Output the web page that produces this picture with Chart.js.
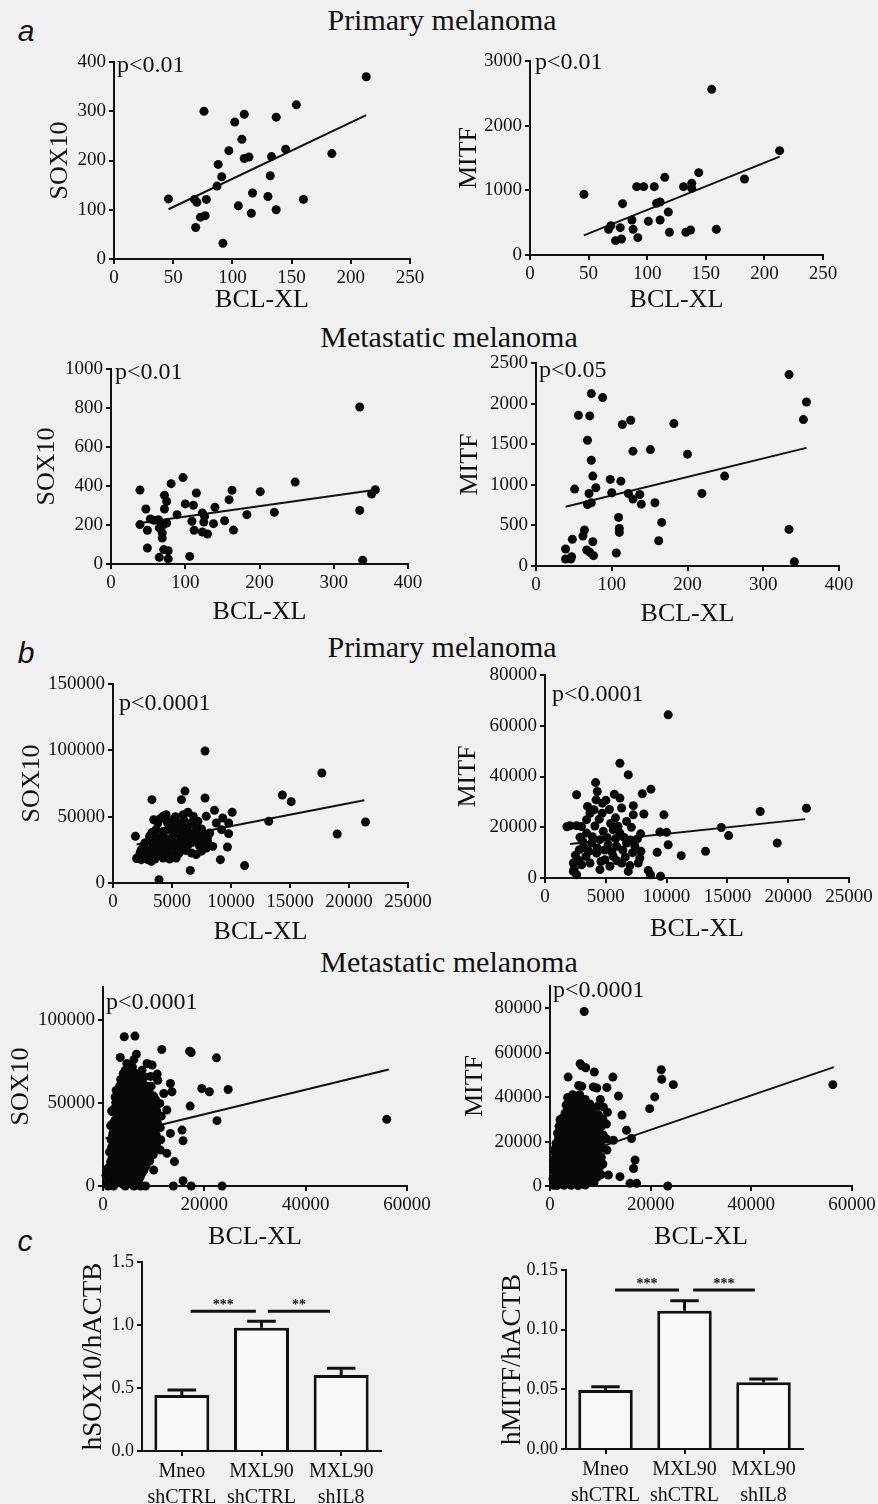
<!DOCTYPE html>
<html>
<head>
<meta charset="utf-8">
<script src="https://cdn.jsdelivr.net/npm/chart.js@4.4.1/dist/chart.umd.min.js"></script>
<style>
  body { margin: 0; width: 878px; height: 1504px; background: #f0f0f0; position: relative; overflow: hidden;
         font-family: "Liberation Serif", "Times New Roman", serif; color: #111; }
  canvas { position: absolute; }
  .head { position: absolute; font-size: 30px; line-height: 1; white-space: nowrap; transform: translate(-50%, -50%); }
  .tag { position: absolute; font-family: "Liberation Sans", Arial, sans-serif; font-style: italic; font-size: 30px;
         line-height: 1; transform: translate(-50%, -50%); }
</style>
</head>
<body>
<div class="tag" style="left:26px;top:31px">a</div>
<div class="tag" style="left:26px;top:653px">b</div>
<div class="tag" style="left:25px;top:1241px">c</div>
<div class="head" style="left:442px;top:20px">Primary melanoma</div>
<div class="head" style="left:449px;top:337px">Metastatic melanoma</div>
<div class="head" style="left:442px;top:647px">Primary melanoma</div>
<div class="head" style="left:449px;top:962px">Metastatic melanoma</div>

<canvas id="c1"></canvas><canvas id="c2"></canvas>
<canvas id="c3"></canvas><canvas id="c4"></canvas>
<canvas id="c5"></canvas><canvas id="c6"></canvas>
<canvas id="c7"></canvas><canvas id="c8"></canvas>
<canvas id="c9"></canvas><canvas id="c10"></canvas>

<script>
// ---- a: primary melanoma, BCL-XL vs SOX10 / MITF ----
const primSox10 = [[46,122],[76,300],[102,278],[110,294],[137,288],[154,313],[213,370],[108,243],[97,220],[88,192],
  [110,204],[114,207],[133,208],[145,223],[184,214],[91,167],[132,169],[87,148],[68,121],[70,115],[78,121],[117,134],
  [130,127],[160,121],[105,108],[116,93],[137,100],[73,85],[77,88],[69,64],[92,32]];
const primSox10Fit = [[46,101],[213,292]];

const primMitf = [[46,938],[155,2562],[213,1613],[183,1175],[144,1273],[115,1201],[91,1057],[97,1057],[106,1057],
  [131,1057],[138,1108],[138,1031],[79,794],[108,799],[111,820],[118,665],[87,541],[101,521],[111,541],[69,454],
  [67,397],[77,423],[88,397],[119,351],[133,351],[137,387],[159,397],[73,222],[78,247],[92,268]];
const primMitfFit = [[46,304],[213,1521]];

// ---- a: metastatic melanoma ----
const metSox10 = [[39,379],[97,443],[81,412],[248,420],[335,805],[356,381],[351,359],[335,275],[339,19],[201,371],
  [163,378],[115,364],[72,352],[75,321],[72,282],[47,282],[100,308],[111,301],[140,291],[159,330],[89,253],[123,262],
  [126,244],[183,253],[220,265],[53,231],[58,224],[39,202],[49,173],[65,185],[71,202],[75,210],[109,219],[125,215],
  [138,207],[153,222],[112,173],[123,164],[130,154],[165,174],[69,133],[49,82],[65,34],[71,74],[77,68],[77,26],
  [106,39],[69,159],[64,227]];
const metSox10Fit = [[39,210],[357,381]];

const metMitf = [[334,2357],[357,2020],[353,1803],[334,451],[341,53],[73,2123],[88,2074],[56,1857],[71,1848],
  [125,1795],[114,1742],[182,1754],[68,1549],[128,1414],[151,1434],[200,1377],[73,1303],[75,1107],[98,1066],
  [112,1045],[249,1107],[51,947],[79,963],[70,893],[100,902],[122,893],[137,881],[219,893],[128,824],[139,762],
  [157,779],[68,758],[73,779],[109,598],[166,537],[110,463],[110,414],[64,443],[62,369],[162,311],[75,299],
  [48,328],[39,209],[67,197],[71,168],[76,127],[106,160],[39,86],[47,115],[46,86]];
const metMitfFit = [[39,730],[357,1455]];

// ---- b: primary melanoma (large cohort) ----
const primBSox10 = [[7800,99500],[17700,82900],[14350,66300],[15100,61300],[21400,46000],[19000,36900],[13200,46500],
  [11150,13100],[6100,69300],[3300,62800],[5800,62800],[7800,64100],[8600,54800],[10100,53300],[9300,49000],
  [9800,45200],[9800,37200],[9700,27100],[9100,17600],[6550,9500],[3900,2500],[1900,35200],[2100,19300],[2550,21400],
  [2950,17600],[2800,25100],[3400,30200],[3450,47700],[3800,45200],[4250,50300],[4500,51500],[5100,47700],[5500,45200],
  [5950,51500],[6350,53300],[6800,50300],[7200,46500],[7900,50300],[3650,40200],[4250,38900],[4650,40200],[5100,37700],
  [5650,40200],[6050,41500],[6500,37700],[7050,38900],[7600,36400],[8200,37700],[3100,35200],[3800,33900],[4400,32700],
  [4950,33900],[5350,30200],[5800,31400],[6200,32700],[6800,33900],[7350,32700],[8050,30200],[8450,27600],[3400,27600],
  [3950,26400],[4500,25100],[5100,27600],[5650,26400],[7350,27600],[7900,26400],[6650,22600],[7050,21400],[2800,20100],
  [3550,18100],[4250,18800],[4800,18100],[5350,18800],[2400,17600],[3250,16300],[7500,40700],[8750,45200],[9200,40200],
  [4800,42700],[2700,30200],[2400,25100],[2300,22800],[2600,27500],[3000,23000],[3200,20500],[3000,31800],[3300,38000],
  [3600,35800],[3900,29500],[4100,23000],[4300,28500],[4700,29500],[4700,22000],[5000,20500],[5300,24000],[5600,22500],
  [5900,28500],[6000,36000],[6200,24500],[6400,29000],[6700,30500],[6900,36000],[7200,30200],[7600,29800],[7500,24000],
  [8000,33500],[4000,48500],[4600,45800],[5300,50000],[6000,47500],[6600,45000],[3600,21500],[5700,35000],[6400,43500],
  [5200,43500],[7000,43000],[4300,35000],[3300,24500],[2000,18500]];
const primBSox10Fit = [[2000,29000],[21300,62300]];

const primBMitf = [[10130,64300],[6160,45200],[6850,40700],[4160,37600],[4300,34100],[8710,35000],[8000,33200],
  [2600,32800],[6160,31500],[5010,30600],[4710,29500],[7260,28500],[8130,25200],[9780,24900],[17700,26200],
  [21500,27500],[3500,28200],[4030,26900],[2050,20600],[2600,20600],[3420,23000],[4460,23200],[7260,24900],
  [6710,22300],[14500,19900],[15100,16700],[9450,18100],[10000,18000],[4790,18400],[5610,19000],[6160,17700],
  [7860,17400],[10130,13100],[19100,13800],[13200,10500],[11200,8800],[9230,10100],[3420,17700],[2880,16100],
  [3830,13800],[4520,15100],[5200,13100],[5890,12500],[6710,13800],[7390,12500],[7890,10500],[2820,11100],
  [3370,8500],[4240,9800],[4930,7200],[5610,8500],[6300,5900],[6980,4900],[7670,5900],[7800,7900],[2330,5900],
  [3010,5200],[3700,5900],[4520,3300],[5340,4600],[2330,2600],[2600,1300],[6850,2600],[8490,3000],[8680,1300],
  [9500,700],[1800,20200],[2400,3500],[2800,6900],[3200,12000],[3600,10500],[3900,16300],[4100,20500],[4300,11800],
  [4600,6500],[4900,11000],[5100,16000],[5400,21500],[5500,10200],[5800,15500],[5900,6800],[6000,20400],[6400,11000],
  [6500,16000],[6600,8200],[7000,15000],[7100,20000],[7600,15400],[7200,10000],[3000,20300],[3700,25500],[4700,25500],
  [5300,27000],[5800,23700],[6300,27600],[4200,30800],[5700,33000],[3100,14500],[2500,9000]];
const primBMitfFit = [[2050,13400],[21400,23200]];

// ---- b: metastatic melanoma (large cohort) ----
const metBSox10 = [[56000,40200],[4200,90000],[6300,90400],[11600,82300],[17100,81300],[17400,80500],[22400,77300],
  [24700,58200],[19500,58800],[21000,56800],[22500,39400],[17200,48200],[14100,14700],[15800,3200],[17400,0],
  [23500,0],[13900,0],[3400,77500],[6600,79500],[8700,73900],[9700,72900],[10700,67500],[13300,61800],[13600,56800],
  [12000,55800],[15600,33700],[15800,27300],[13300,31700],[12600,45800],[10700,37800],[11300,21700],[12600,19700],
  [10000,9600],[8000,9600],[2100,0],[4400,0],[6100,0],[7400,0],[8400,0],
  [800,2000],[600,6500],[900,10500],[1000,0],
  [1500,500],[1400,4200],[1600,8800],[1500,14500],[1300,20500],[1600,27800],[1500,36400],[1700,45200],
  [2200,5200],[2100,11800],[2300,18300],[2200,24600],[2000,32100],[2300,39400],[2100,46300],[2400,53700],
  [2900,2800],[2800,8300],[3000,14200],[2900,20800],[2700,27900],[3000,35300],[2800,42100],[3100,49200],[2900,56400],
  [3600,6100],[3500,11300],[3700,17200],[3600,23400],[3400,30300],[3700,36800],[3500,43900],[3800,51200],[3600,58300],
  [3500,64200],[4300,2300],[4200,8100],[4400,13800],[4300,20200],[4100,27100],[4400,34300],[4200,40800],[4500,48100],
  [4300,55300],[4100,62200],[4400,69800],[5000,4800],[4900,11300],[5100,17100],[5000,24200],[4800,30800],[5100,38200],
  [4900,45100],[5200,52300],[5000,58900],[4900,66200],[5700,2900],[5600,9200],[5800,15300],[5700,21100],[5500,28200],
  [5800,34900],[5600,42200],[5900,48800],[5700,56100],[5600,63100],[5800,71800],[6400,6200],[6300,12100],[6500,18900],
  [6400,25800],[6200,33200],[6500,39900],[6300,47200],[6600,54100],[6400,61200],[6300,68100],[7100,3800],[7000,10200],
  [7200,16100],[7100,23200],[6900,29800],[7200,37100],[7000,44200],[7300,50900],[7100,58100],[7000,65200],[7800,8100],
  [7700,13900],[7900,20200],[7800,27100],[7600,34200],[7900,40800],[7700,48200],[8000,54900],[7800,62100],[7700,69800],
  [8500,12200],[8400,18100],[8600,24800],[8500,32100],[8300,38900],[8600,46200],[8400,53100],[8700,60200],[9200,15100],
  [9100,22200],[9300,28900],[9200,36200],[9000,42800],[9300,50100],[9100,57200],[9400,66100],[9900,18800],[9800,26100],
  [10000,32900],[9900,40200],[9700,47100],[10000,54200],[10600,24200],[10500,30800],[10700,38100],[10600,45200],
  [10400,51900],[10800,63800],[11400,27900],[11300,35200],[11500,42100],[11200,49800],
  [1800,2500],[1900,9400],[1800,16600],[1700,23400],[1900,30600],[1800,37300],[1900,44700],
  [2500,1600],[2600,8400],[2500,15700],[2400,22300],[2600,29600],[2500,36400],[2700,43700],[2500,50400],[2600,57700],
  [3200,4400],[3300,11600],[3200,18300],[3100,25700],[3300,32400],[3200,39600],[3400,46300],[3200,53600],[3300,60400],
  [3900,1100],[4000,8100],[3900,14800],[3800,22100],[4000,28900],[3900,36200],[4100,42900],[3900,50100],[4000,56800],
  [3900,62300],[4000,67800],[4600,5400],[4700,12600],[4600,19400],[4500,26700],[4700,33400],[4600,40600],[4800,47400],
  [4600,54600],[4700,61300],[4600,66700],[4700,73800],[5300,1600],[5400,8300],[5300,15600],[5200,22400],[5400,29700],
  [5300,36400],[5500,43600],[5300,50300],[5400,57600],[5300,64400],[5400,69800],[6000,5100],[6100,11800],[6000,19200],
  [5900,25900],[6100,33100],[6000,39800],[6200,47200],[6000,53900],[6100,61100],[6000,66800],[6100,76200],[6700,2100],
  [6800,8800],[6700,16200],[6600,22900],[6800,30100],[6700,36800],[6900,44200],[6700,50900],[6800,58100],[6700,63800],
  [7400,5900],[7500,13200],[7400,19800],[7300,27200],[7500,33900],[7400,41100],[7600,47800],[7400,55200],[7500,61800],
  [8100,9800],[8200,17200],[8100,23800],[8000,31200],[8200,37800],[8100,45100],[8300,51800],[8100,59200],[8200,65800],
  [8800,14800],[8900,21200],[8800,27800],[8700,35200],[8900,41800],[8800,49200],[9000,55800],
  [9500,19800],[9600,30200],[9500,36800],[9400,44200],[9600,50800],[9500,60200],
  [10200,21800],[10300,28200],[10200,34800],[10100,43200],[10300,48800]];
const metBSox10Fit = [[500,28800],[56400,70300]];

const metBMitf = [[6800,78500],[56200,45600],[24500,45600],[22200,48000],[22100,52300],[20800,40100],[19800,34800],
  [23400,0],[12500,49000],[11300,44300],[8800,51300],[6000,55000],[3600,49000],[6300,44900],[8600,44600],[13600,40500],
  [10600,35600],[14300,31900],[15200,25100],[16200,21400],[16900,11700],[16600,7900],[13900,4200],[11600,4900],
  [15900,1200],[17200,1200],[12600,20600],[11300,16200],[1300,14700],[700,8700],
  [700,300],[600,3200],[800,7200],[700,11800],[900,15300],[1400,200],[1300,4100],[1500,8900],[1400,14100],[1200,19200],
  [1500,23800],[2100,1100],[2000,6200],[2200,10800],[2100,16100],[1900,20900],[2200,26200],[2000,29800],[2800,300],
  [2700,4100],[2900,8200],[2800,12900],[2600,18100],[2900,22800],[2700,28100],[3000,32900],[3500,1800],[3400,6100],
  [3600,10200],[3500,14900],[3300,20100],[3600,24800],[3400,30200],[3700,34900],[3500,39800],[4200,300],[4100,4200],
  [4300,8100],[4200,12200],[4000,16900],[4300,22100],[4100,27200],[4400,31900],[4200,37100],[4900,2100],[4800,5900],
  [5000,10900],[4900,15100],[4700,19200],[5000,23900],[4800,29100],[5100,33800],[4900,38900],[5600,200],[5500,4100],
  [5700,8900],[5600,13100],[5400,18200],[5700,22900],[5500,28200],[5800,32900],[5600,38100],[5700,45200],[6300,2100],
  [6200,6900],[6400,11100],[6300,16200],[6100,20900],[6400,26100],[6200,30900],[6500,36200],[6300,54100],[7000,400],
  [6900,5100],[7100,9200],[7000,13900],[6800,18900],[7100,24200],[6900,28900],[7200,34100],[7000,38900],[7100,53200],
  [7700,2100],[7600,6900],[7800,11900],[7700,17100],[7500,22200],[7800,26900],[7600,32100],[7900,36900],[8400,3900],
  [8300,9100],[8500,13900],[8400,19200],[8200,23900],[8500,29100],[8300,33800],[9100,6100],[9000,10900],[9200,16200],
  [9100,20900],[8900,26100],[9200,30900],[9300,44100],[9800,8100],[9700,13900],[9900,20100],[9800,25900],[9600,32100],
  [10000,38900],[10500,9900],[10400,17100],[10600,22900],[10500,30100],[11300,21100],[11200,27900],[11400,33200],
  [1000,1500],[1100,5600],[1000,9900],[1100,17100],[1750,2100],[1800,6400],[1700,11600],[1800,16400],[1700,21600],
  [1800,26900],[2450,2900],[2500,8600],[2400,13400],[2500,18600],[2400,23400],[2500,30600],[3150,1100],[3200,4900],
  [3100,10600],[3200,15400],[3100,20600],[3200,25400],[3100,30600],[3200,36400],[3850,2900],[3900,8100],[3800,12400],
  [3900,17600],[3800,22400],[3900,27600],[3800,32400],[3900,38600],[4550,1100],[4600,5900],[4500,10100],[4600,14400],
  [4500,19600],[4600,24400],[4500,29600],[4600,34400],[4500,41100],[5250,2900],[5300,7600],[5200,11900],[5300,16600],
  [5200,20900],[5300,26100],[5200,30900],[5300,36100],[5950,1600],[6000,5900],[5900,10600],[6000,14900],[5900,19600],
  [6000,24400],[5900,29600],[6000,34900],[5900,41100],[6650,3400],[6700,8100],[6600,12900],[6700,18100],[6600,22900],
  [6700,28100],[6600,32900],[6700,38100],[7350,1600],[7400,6400],[7300,11600],[7400,16400],[7300,21600],[7400,26400],
  [7300,31600],[7400,36400],[8050,4600],[8100,9400],[8000,14600],[8100,19400],[8000,24600],[8100,29400],[8000,35100],
  [8750,1600],[8800,6400],[8700,11600],[8800,16400],[8700,21600],[8800,27400],[8700,32100],[9450,4100],[9500,10900],
  [9400,17600],[9500,23400],[9400,29100],[9500,35900],[10150,5100],[10200,12900],[10100,19600],[10200,26900]];
const metBMitfFit = [[500,10200],[56400,53500]];

// ---- c: qPCR bars ----
const groups = [['Mneo', 'shCTRL'], ['MXL90', 'shCTRL'], ['MXL90', 'shIL8']];
const sox10Mean = [0.444, 0.978, 0.603];
const sox10Err = [0.04, 0.052, 0.053];
const sox10Sig = [[0.11, 0.93, 1.11, '***'], [1.08, 1.86, 1.11, '**']];
const mitfMean = [0.0494, 0.1159, 0.0559];
const mitfErr = [0.0028, 0.0084, 0.0028];
const mitfSig = [[0.12, 0.93, 0.1333, '***'], [1.11, 1.89, 0.1333, '***']];

Chart.defaults.font.family = '"Liberation Serif", "Times New Roman", serif';
Chart.defaults.color = '#111';
const INK = '#111';

function noteAt(text, dx, dy) {
  return {
    id: 'pnote',
    afterDraw(chart) {
      const { ctx, chartArea } = chart;
      ctx.save();
      ctx.font = '24px "Liberation Serif"';
      ctx.fillStyle = INK;
      ctx.textBaseline = 'middle';
      ctx.fillText(text, chartArea.left + dx, chartArea.top + dy);
      ctx.restore();
    }
  };
}

function barMarks(vals, err, sig) {
  return {
    id: 'barmarks',
    afterDatasetsDraw(chart) {
      const { ctx, scales: { x, y } } = chart;
      const meta = chart.getDatasetMeta(0);
      ctx.save();
      ctx.strokeStyle = INK;
      ctx.fillStyle = INK;
      ctx.lineWidth = 3;
      meta.data.forEach((bar, i) => {
        const y0 = y.getPixelForValue(vals[i]), y1 = y.getPixelForValue(vals[i] + err[i]);
        const h = bar.width * 0.26;
        ctx.beginPath();
        ctx.moveTo(bar.x, y0); ctx.lineTo(bar.x, y1);
        ctx.moveTo(bar.x - h, y1); ctx.lineTo(bar.x + h, y1);
        ctx.stroke();
      });
      ctx.font = 'bold 14px "Liberation Serif"';
      ctx.textAlign = 'center';
      ctx.textBaseline = 'alphabetic';
      sig.forEach(([a, b, v, s]) => {
        const xa = x.getPixelForValue(a), xb = x.getPixelForValue(b), yy = y.getPixelForValue(v);
        ctx.beginPath(); ctx.moveTo(xa, yy); ctx.lineTo(xb, yy); ctx.stroke();
        ctx.fillText(s, (xa + xb) / 2, yy - 2);
      });
      ctx.restore();
    }
  };
}

// ticks every `step` from 0, even when max is not a multiple of step
function axis(max, step, title, size, fit, fmt) {
  return {
    type: 'linear', min: 0, max: max,
    afterBuildTicks: s => {
      const t = [];
      for (let v = 0; v <= max + step * 1e-6; v += step) t.push({ value: +v.toFixed(6) });
      s.ticks = t;
    },
    ticks: { autoSkip: false, maxRotation: 0, padding: 3, color: INK, font: { size: 19 },
             callback: fmt || (v => String(v)) },
    grid: { drawOnChartArea: false, drawTicks: true, tickLength: 5, color: INK, lineWidth: 2 },
    border: { display: true, color: INK, width: 2 },
    title: { display: true, text: title, color: INK, padding: 0, font: { size: size, lineHeight: 1 } },
    afterFit: fit
  };
}

function place(cv, box, wy, hx, padT, padR) {
  cv.width = wy + box.r - box.l + padR;
  cv.height = padT + box.b - box.t + hx;
  cv.style.left = (box.l - wy) + 'px';
  cv.style.top = (box.t - padT) + 'px';
}

// box: plot area on the page (l, r, t, b), yt = centre of y title, xt = centre of x title
function scatter(id, box, xr, yr, yTitle, pts, fit, note) {
  const T = 26, padT = 16, padR = 32;
  const wy = Math.round(box.l - box.yt + T / 2);
  const hx = Math.round(box.xt - box.b + T / 2);
  const cv = document.getElementById(id);
  place(cv, box, wy, hx, padT, padR);
  new Chart(cv, {
    type: 'scatter',
    data: {
      datasets: [
        { data: pts.map(p => ({ x: p[0], y: p[1] })), pointRadius: 4.5, pointHoverRadius: 4.5,
          backgroundColor: '#080808', borderWidth: 0, clip: false },
        { data: fit.map(p => ({ x: p[0], y: p[1] })), showLine: true, pointRadius: 0,
          borderColor: INK, borderWidth: 2, clip: false }
      ]
    },
    options: {
      responsive: false, animation: false, devicePixelRatio: 1,
      layout: { padding: { top: padT, right: padR, left: 0, bottom: 0 } },
      plugins: { legend: { display: false }, tooltip: { enabled: false } },
      scales: {
        x: axis(xr[0], xr[1], 'BCL-XL', T, s => { s.height = hx; }),
        y: axis(yr[0], yr[1], yTitle, T, s => { s.width = wy; })
      }
    },
    plugins: [noteAt(note[0], note[1], note[2])]
  });
}

function bars(id, box, vals, err, sig, yr, dec, yTitle) {
  const T = 27, padT = 16, padR = 22;
  const wy = Math.round(box.l - box.yt + T / 2);
  const hx = 1504 - box.b;
  const cv = document.getElementById(id);
  place(cv, box, wy, hx, padT, padR);
  const y = axis(yr[0], yr[1], yTitle, T, s => { s.width = wy; }, v => v.toFixed(dec));
  y.ticks.font = { size: 18 };
  new Chart(cv, {
    type: 'bar',
    data: {
      labels: groups,
      datasets: [{ data: vals, backgroundColor: '#f8f8f8', borderColor: INK, borderWidth: 3,
                   barPercentage: 0.69, categoryPercentage: 1 }]
    },
    options: {
      responsive: false, animation: false, devicePixelRatio: 1,
      layout: { padding: { top: padT, right: padR, left: 0, bottom: 0 } },
      plugins: { legend: { display: false }, tooltip: { enabled: false } },
      scales: {
        x: {
          type: 'category', offset: true,
          grid: { offset: false, drawOnChartArea: false, drawTicks: true, tickLength: 5, color: INK, lineWidth: 2 },
          border: { display: true, color: INK, width: 2 },
          ticks: { autoSkip: false, maxRotation: 0, padding: 3, color: INK, font: { size: 20, lineHeight: 1.3 } },
          afterFit: s => { s.height = hx; }
        },
        y: y
      }
    },
    plugins: [barMarks(vals, err, sig)]
  });
}

scatter('c1', { l: 114, r: 410, t: 62, b: 259, yt: 60, xt: 300 }, [250, 50], [400, 100], 'SOX10',
  primSox10, primSox10Fit, ['p<0.01', 3, 4]);
scatter('c2', { l: 530, r: 823, t: 61, b: 255, yt: 469, xt: 300 }, [250, 50], [3000, 1000], 'MITF',
  primMitf, primMitfFit, ['p<0.01', 5, 2]);
scatter('c3', { l: 111, r: 408, t: 369, b: 564, yt: 47, xt: 612 }, [400, 100], [1000, 200], 'SOX10',
  metSox10, metSox10Fit, ['p<0.01', 4, 4]);
scatter('c4', { l: 536, r: 839, t: 363, b: 566, yt: 470, xt: 614 }, [400, 100], [2500, 500], 'MITF',
  metMitf, metMitfFit, ['p<0.05', 3, 8]);
scatter('c5', { l: 113, r: 408, t: 684, b: 883, yt: 32, xt: 932 }, [25000, 5000], [150000, 50000], 'SOX10',
  primBSox10, primBSox10Fit, ['p<0.0001', 6, 20]);
scatter('c6', { l: 545, r: 849, t: 675, b: 878, yt: 468, xt: 929 }, [25000, 5000], [80000, 20000], 'MITF',
  primBMitf, primBMitfFit, ['p<0.0001', 7, 20]);
scatter('c7', { l: 103, r: 407, t: 987, b: 1186, yt: 21, xt: 1237 }, [60000, 20000], [120000, 50000], 'SOX10',
  metBSox10, metBSox10Fit, ['p<0.0001', 3, 16]);
scatter('c8', { l: 550, r: 852, t: 986, b: 1186, yt: 475, xt: 1237 }, [60000, 20000], [90000, 20000], 'MITF',
  metBMitf, metBMitfFit, ['p<0.0001', 3, 5]);

bars('c9', { l: 142, r: 381, t: 1262, b: 1451, yt: 94 }, sox10Mean, sox10Err, sox10Sig, [1.5, 0.5], 1, 'hSOX10/hACTB');
bars('c10', { l: 566, r: 803, t: 1270, b: 1449, yt: 513 }, mitfMean, mitfErr, mitfSig, [0.15, 0.05], 2, 'hMITF/hACTB');
</script>
</body>
</html>
